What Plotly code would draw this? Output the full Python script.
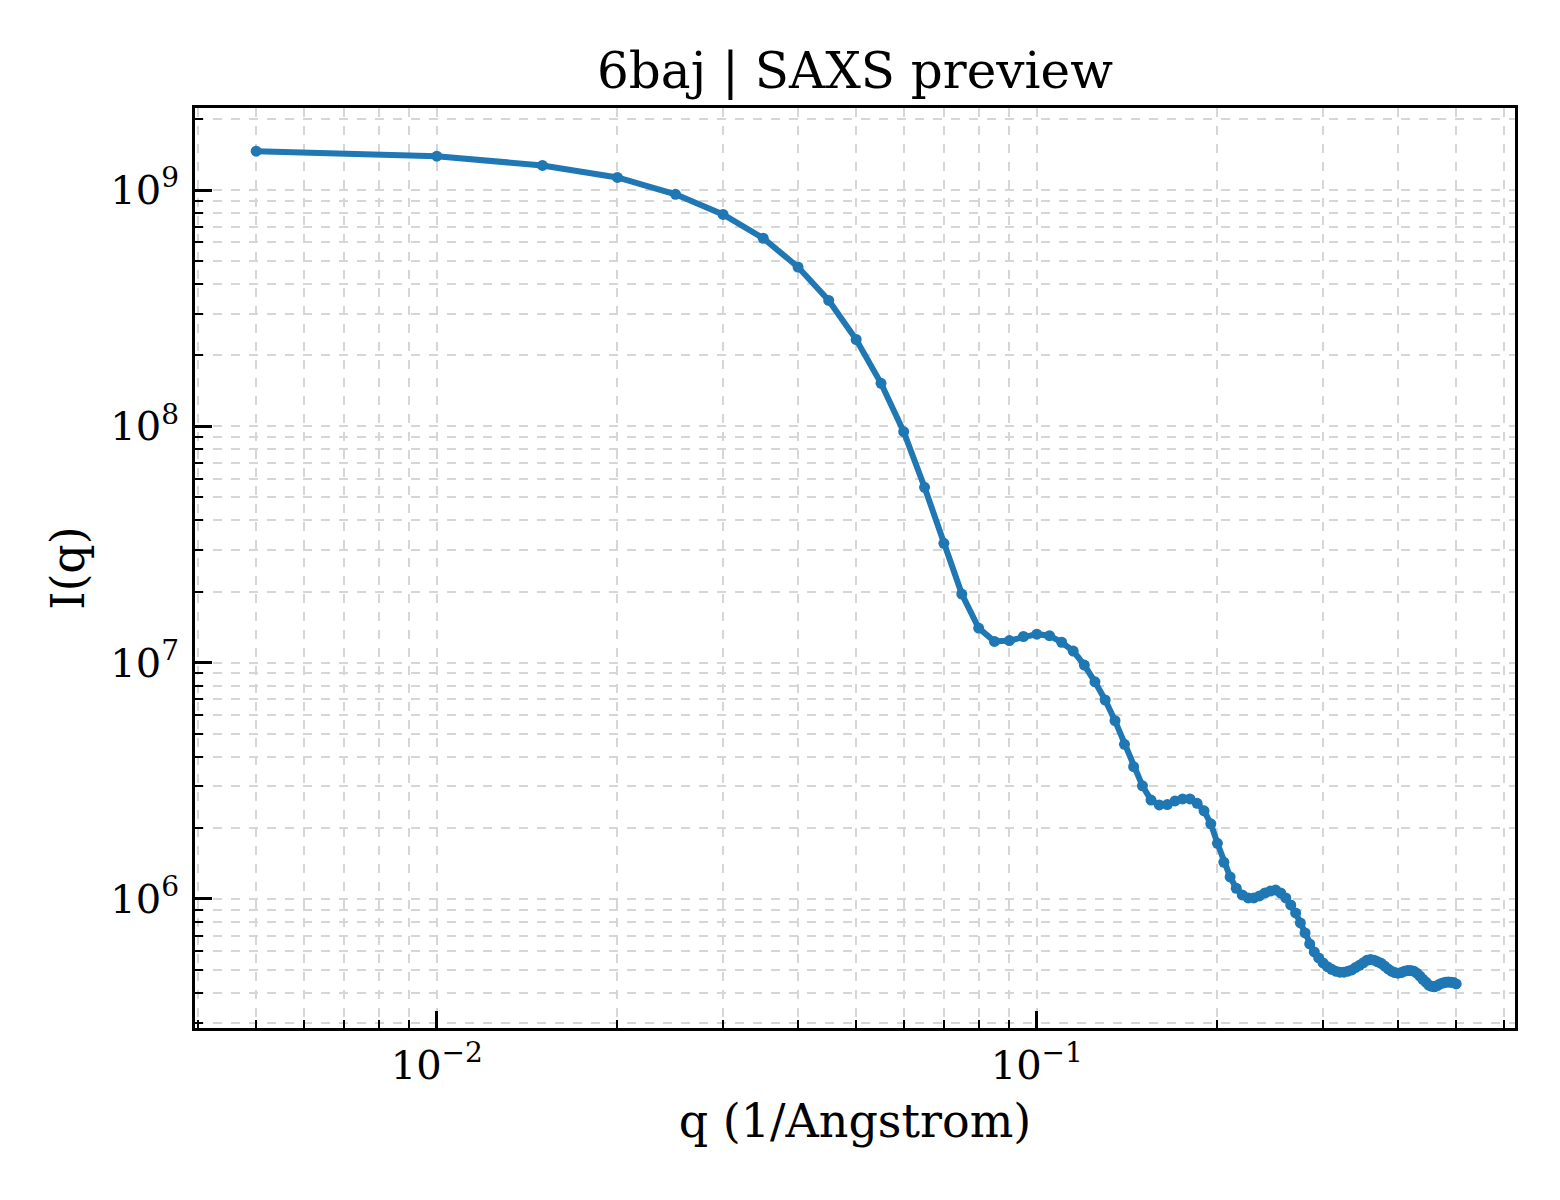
"""
SAXS preview de 6baj: I(q) en escala log-log.
"""
import plotly.graph_objects as go

# q (1/Angstrom), paso de 0.005
q_vals = [
    0.005, 0.010, 0.015, 0.020, 0.025, 0.030, 0.035, 0.040, 0.045, 0.050,
    0.055, 0.060, 0.065, 0.070, 0.075, 0.080, 0.085, 0.090, 0.095, 0.100,
    0.105, 0.110, 0.115, 0.120, 0.125, 0.130, 0.135, 0.140, 0.145, 0.150,
    0.155, 0.160, 0.165, 0.170, 0.175, 0.180, 0.185, 0.190, 0.195, 0.200,
    0.205, 0.210, 0.215, 0.220, 0.225, 0.230, 0.235, 0.240, 0.245, 0.250,
    0.255, 0.260, 0.265, 0.270, 0.275, 0.280, 0.285, 0.290, 0.295, 0.300,
    0.305, 0.310, 0.315, 0.320, 0.325, 0.330, 0.335, 0.340, 0.345, 0.350,
    0.355, 0.360, 0.365, 0.370, 0.375, 0.380, 0.385, 0.390, 0.395, 0.400,
    0.405, 0.410, 0.415, 0.420, 0.425, 0.430, 0.435, 0.440, 0.445, 0.450,
    0.455, 0.460, 0.465, 0.470, 0.475, 0.480, 0.485, 0.490, 0.495, 0.500,
]

# I(q)
i_vals = [
    1.46e9, 1.39e9, 1.27e9, 1.13e9, 9.59e8, 7.88e8, 6.25e8, 4.72e8, 3.41e8, 2.33e8,
    1.52e8, 9.49e7, 5.52e7, 3.20e7, 1.95e7, 1.40e7, 1.23e7, 1.24e7, 1.29e7, 1.32e7,
    1.30e7, 1.22e7, 1.12e7, 9.77e6, 8.30e6, 6.95e6, 5.68e6, 4.51e6, 3.63e6, 3.01e6,
    2.62e6, 2.50e6, 2.51e6, 2.60e6, 2.65e6, 2.65e6, 2.54e6, 2.36e6, 2.08e6, 1.72e6,
    1.43e6, 1.24e6, 1.11e6, 1.04e6, 1.01e6, 1.01e6, 1.03e6, 1.06e6, 1.08e6, 1.09e6,
    1.06e6, 1.01e6, 9.44e5, 8.73e5, 7.92e5, 7.18e5, 6.45e5, 5.97e5, 5.63e5, 5.36e5,
    5.17e5, 5.04e5, 4.95e5, 4.90e5, 4.90e5, 4.95e5, 5.01e5, 5.13e5, 5.24e5, 5.37e5,
    5.50e5, 5.55e5, 5.51e5, 5.42e5, 5.34e5, 5.20e5, 5.06e5, 4.95e5, 4.88e5, 4.85e5,
    4.88e5, 4.95e5, 4.98e5, 4.98e5, 4.95e5, 4.85e5, 4.72e5, 4.57e5, 4.45e5, 4.32e5,
    4.27e5, 4.25e5, 4.30e5, 4.37e5, 4.41e5, 4.44e5, 4.45e5, 4.44e5, 4.43e5, 4.37e5,
]

x_tickvals = [0.01, 0.1]
x_ticktext = ["10<sup>\u22122</sup>", "10<sup>\u22121</sup>"]
y_tickvals = [1e6, 1e7, 1e8, 1e9]
y_ticktext = ["10<sup>6</sup>", "10<sup>7</sup>", "10<sup>8</sup>", "10<sup>9</sup>"]

x_minor = [m * 10.0 ** e for e in (-3, -2, -1) for m in range(2, 10)]
y_minor = [m * 10.0 ** e for e in (5, 6, 7, 8, 9) for m in range(2, 10)]

FONT = "DejaVu Serif"
GRID = "#d6d6d6"

fig = go.Figure()
fig.add_trace(go.Scatter(
    x=q_vals, y=i_vals, mode="lines+markers",
    line=dict(color="#1f77b4", width=6),
    marker=dict(color="#1f77b4", size=11),
    showlegend=False,
))

# la pagina tiene 8px de margen en el body, se compensa aqui
fig.update_layout(
    width=1560, height=1200,
    margin=dict(l=187, r=53, t=100, b=180),
    paper_bgcolor="white", plot_bgcolor="white",
    font=dict(family=FONT, color="black", size=40),
    title=dict(text="6baj | SAXS preview", x=0.5, xref="paper",
               y=1 - 62 / 1200, yref="container", yanchor="middle",
               font=dict(family=FONT, size=50)),
)

fig.update_xaxes(
    type="log", range=[-2.403, -0.203],
    tickvals=x_tickvals, ticktext=x_ticktext,
    ticks="inside", ticklen=17, tickwidth=2.5, tickcolor="black",
    tickfont=dict(size=40),
    showline=True, linecolor="black", linewidth=3, mirror=True,
    showgrid=True, gridcolor=GRID, gridwidth=1.5, griddash="dash",
    minor=dict(tickvals=x_minor, ticks="inside", ticklen=8, tickwidth=2,
               tickcolor="black", showgrid=True, gridcolor=GRID,
               gridwidth=1.5, griddash="dash"),
    title=dict(text="q (1/Angstrom)", font=dict(size=46), standoff=18),
    zeroline=False,
)
fig.update_yaxes(
    type="log", range=[5.454, 9.347],
    tickvals=y_tickvals, ticktext=y_ticktext,
    ticks="inside", ticklen=17, tickwidth=2.5, tickcolor="black",
    tickfont=dict(size=40), ticklabelstandoff=5,
    showline=True, linecolor="black", linewidth=3, mirror=True,
    showgrid=True, gridcolor=GRID, gridwidth=1.5, griddash="dash",
    minor=dict(tickvals=y_minor, ticks="inside", ticklen=8, tickwidth=2,
               tickcolor="black", showgrid=True, gridcolor=GRID,
               gridwidth=1.5, griddash="dash"),
    title=dict(text="I(q)", font=dict(size=46), standoff=12),
    zeroline=False,
)

fig.write_html("out.html")
